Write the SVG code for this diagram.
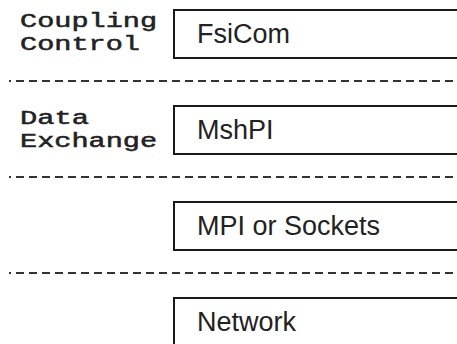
<svg xmlns="http://www.w3.org/2000/svg" width="457" height="344" viewBox="0 0 457 344">
<style>
.box{fill:#fff;stroke:#1a1a1a;stroke-width:2}
.lbl{font-family:"Liberation Sans",Arial,sans-serif;font-size:27px;fill:#222}
.side{font-family:"Liberation Mono","Courier New",monospace;font-size:20px;fill:#222;stroke:#222;stroke-width:0.5}
.sep{stroke:#333;stroke-width:2;stroke-dasharray:8 5;stroke-dashoffset:6;fill:none}
</style>
<rect width="457" height="344" fill="#fff"/>
<g id="separators">
<line class="sep" x1="9" y1="81" x2="457" y2="81"/>
<line class="sep" x1="9" y1="177" x2="457" y2="177"/>
<line class="sep" x1="9" y1="273" x2="457" y2="273"/>
</g>
<g id="coupling-control">
<text class="side" x="20" y="27" textLength="137" lengthAdjust="spacingAndGlyphs">Coupling</text>
<text class="side" x="20" y="50" textLength="120" lengthAdjust="spacingAndGlyphs">Control</text>
</g>
<g id="data-exchange">
<text class="side" x="20" y="124" textLength="69" lengthAdjust="spacingAndGlyphs">Data</text>
<text class="side" x="20" y="147" textLength="137" lengthAdjust="spacingAndGlyphs">Exchange</text>
</g>
<g id="fsicom">
<rect class="box" x="174" y="10" width="300" height="48"/>
<text class="lbl" x="197" y="43">FsiCom</text>
</g>
<g id="mshpi">
<rect class="box" x="174" y="106" width="300" height="48"/>
<text class="lbl" x="197" y="139">MshPI</text>
</g>
<g id="mpi">
<rect class="box" x="174" y="202" width="300" height="48"/>
<text class="lbl" x="197" y="235">MPI or Sockets</text>
</g>
<g id="network">
<rect class="box" x="174" y="298" width="300" height="60"/>
<text class="lbl" x="197" y="331">Network</text>
</g>
</svg>
